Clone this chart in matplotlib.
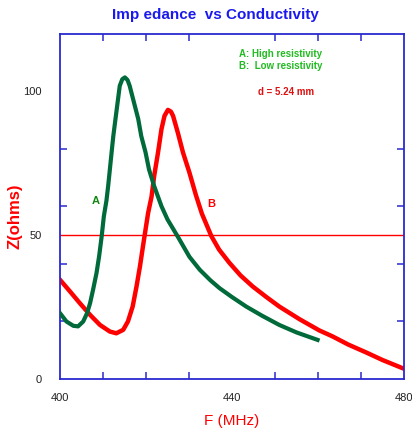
import numpy as np
import matplotlib.pyplot as plt
from matplotlib.ticker import MultipleLocator, FixedLocator

# curve A: high resistivity
freq_a = [400.0, 401.5, 403.1, 404.2, 405.4, 406.3, 407.0, 407.7, 408.5, 409.1,
          409.7, 410.2, 410.8, 411.2, 411.6, 412.0, 412.4, 412.9, 413.4, 413.9,
          414.5, 415.1, 415.7, 416.2, 417.2, 418.2, 418.9, 419.9, 420.7, 421.9,
          423.6, 425.0, 427.4, 430.1, 432.5, 435.0, 437.1, 440.0, 443.3, 447.0,
          451.0, 455.0, 459.9]
z_a = [22.9, 20.0, 18.5, 18.3, 20.0, 22.9, 26.4, 31.1, 36.9, 42.7,
       49.7, 56.6, 62.0, 67.1, 72.9, 78.8, 84.5, 90.4, 96.2, 102.0,
       104.3, 104.9, 104.0, 102.0, 96.2, 90.4, 84.5, 78.8, 72.9, 67.1,
       60.1, 55.5, 49.5, 42.5, 38.0, 34.3, 31.6, 28.5, 25.2, 22.0,
       18.8, 16.2, 13.6]

# curve B: low resistivity
freq_b = [400.0, 402.3, 404.6, 407.0, 409.3, 411.6, 413.1, 414.7, 415.8, 416.9,
          417.8, 418.6, 419.3, 419.9, 420.5, 421.3, 421.9, 422.8, 423.6, 424.3,
          425.1, 425.8, 426.3, 427.4, 428.6, 430.1, 431.6, 433.0, 435.2, 437.0,
          439.4, 442.0, 444.8, 448.0, 451.0, 455.7, 460.3, 463.4, 467.0, 471.1,
          475.0, 479.6]
z_b = [34.5, 30.5, 26.4, 22.3, 18.8, 16.5, 15.9, 17.1, 20.0, 25.2,
       32.2, 39.2, 46.2, 52.0, 57.8, 63.5, 70.6, 78.8, 86.9, 91.5,
       93.6, 93.0, 91.5, 85.7, 78.8, 71.8, 64.0, 57.5, 49.7, 45.0,
       40.4, 36.0, 32.2, 28.5, 25.2, 20.8, 16.9, 14.8, 12.0, 9.3,
       6.6, 3.8]

blue = '#2a2ad0'
dark_green = '#006a3a'
red = '#ff0000'

plt.rcParams['font.family'] = ['Liberation Sans', 'DejaVu Sans']

fig = plt.figure(figsize=(4.12, 4.32), dpi=100)
ax = fig.add_axes([0.1456, 0.1227, 0.835, 0.7986])

ax.axhline(50, color=red, lw=1.0, zorder=1)
ax.plot(freq_b, z_b, color=red, lw=3.2, solid_joinstyle='round', zorder=2)
ax.plot(freq_a, z_a, color=dark_green, lw=3.0, solid_joinstyle='round', zorder=3)

ax.set_xlim(400, 480)
ax.set_ylim(0, 120)

for s in ax.spines.values():
    s.set_color(blue)
    s.set_linewidth(1.3)

ax.xaxis.set_major_locator(FixedLocator([400, 440, 480]))
ax.xaxis.set_minor_locator(MultipleLocator(10))
ax.yaxis.set_major_locator(FixedLocator([0, 50, 100]))
ax.yaxis.set_minor_locator(FixedLocator([20, 40, 60, 80, 100]))
ax.tick_params(which='major', length=0, labelsize=8, labelcolor='#222222')
ax.tick_params(axis='x', which='major', pad=10)
ax.tick_params(axis='y', which='major', pad=13)
ax.tick_params(which='minor', direction='in', length=5, width=1.1, color=blue,
               top=True, right=True)

fig.text(0.524, 0.965, 'Imp edance  vs Conductivity', color='#1a1aee',
         fontsize=11, fontweight='bold', ha='center', va='center')
ax.set_xlabel('F (MHz)', color=red, fontsize=11, labelpad=8)
fig.text(0.036, 0.5, 'Z(ohms)', color=red, fontsize=12, fontweight='bold',
         rotation=90, ha='center', va='center')

ax.text(0.52, 0.942, 'A: High resistivity', transform=ax.transAxes,
        color='#22bb22', fontsize=7, fontweight='bold', va='center')
ax.text(0.52, 0.907, 'B:  Low resistivity', transform=ax.transAxes,
        color='#22bb22', fontsize=7, fontweight='bold', va='center')
ax.text(0.575, 0.833, 'd = 5.24 mm', transform=ax.transAxes,
        color='#dd1111', fontsize=7, fontweight='bold', va='center')
ax.text(408.4, 61.8, 'A', color='#118811', fontsize=8, fontweight='bold',
        ha='center', va='center')
ax.text(435.2, 61.0, 'B', color=red, fontsize=8, fontweight='bold',
        ha='center', va='center')

fig.savefig('out.png', dpi=100)
